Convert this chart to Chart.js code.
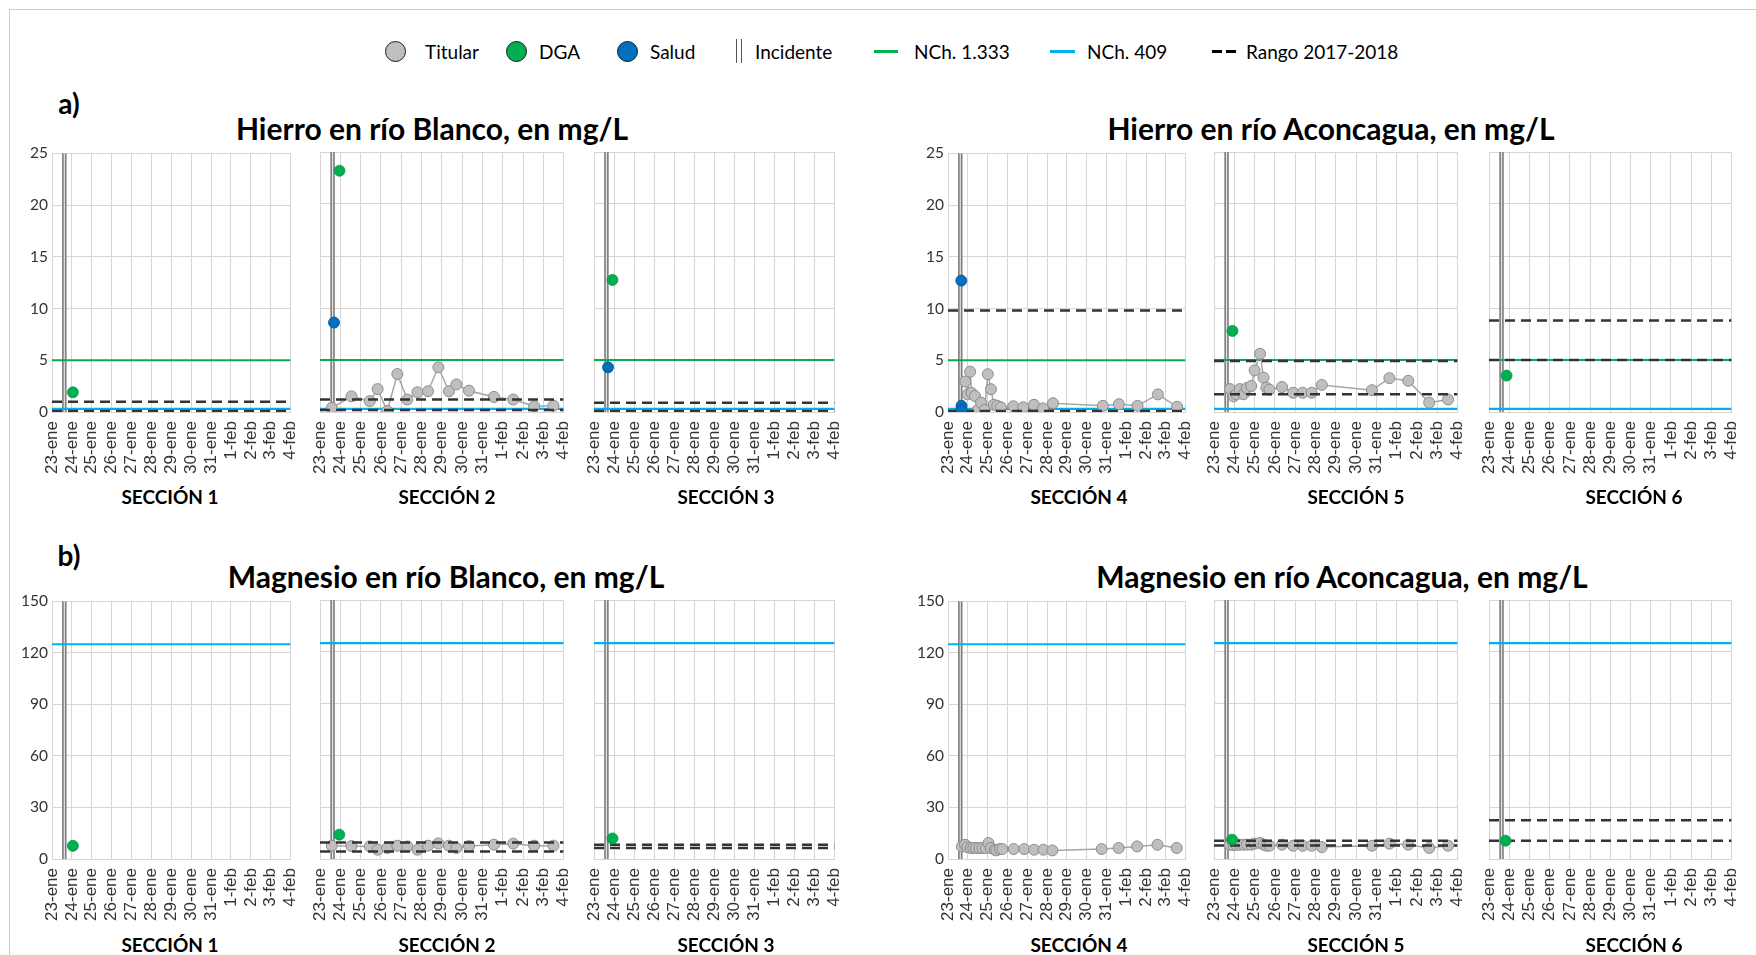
<!DOCTYPE html>
<html lang="es">
<head>
<meta charset="utf-8">
<title>Hierro y magnesio en río Blanco y río Aconcagua</title>
<script src="https://cdn.jsdelivr.net/npm/chart.js@4.4.1/dist/chart.umd.min.js"></script>
<style>
  html, body { margin: 0; padding: 0; background: #fff; }
  body { width: 1756px; height: 955px; position: relative; overflow: hidden;
         font-family: Lato, "Open Sans", sans-serif; color: #000; }
  .marco { position: absolute; left: 9px; top: 9px; width: 1800px; height: 1000px;
           border: 1px solid #c9c9c9; }
  .panel { position: absolute; }
  .txt { position: absolute; white-space: nowrap; transform: translate(-50%, -50%); }
  .titulo { font-weight: 700; font-size: 30px; }
  .letra { font-weight: 700; font-size: 28px; }
  .seccion { font-weight: 700; font-size: 19px; }
  .leg-txt { position: absolute; top: 51px; transform: translateY(-50%); font-size: 19px; white-space: nowrap; }
  .leg-sym { position: absolute; box-sizing: border-box; }
  .circ { width: 21px; height: 21px; top: 40.5px; border-radius: 50%; border: 1.8px solid #1a1a1a; }
  .inc { width: 6px; height: 24px; top: 39px; border-left: 1.3px solid #555; border-right: 1.3px solid #555; }
  .lin { height: 3px; top: 50px; }
</style>
</head>
<body>
<div class="marco"></div>

<!-- leyenda común -->
<div class="leg-sym circ" style="left:385px;background:#BFBFBF"></div>
<div class="leg-txt" style="left:425px">Titular</div>
<div class="leg-sym circ" style="left:506px;background:#00B050"></div>
<div class="leg-txt" style="left:539px">DGA</div>
<div class="leg-sym circ" style="left:617px;background:#0070C0"></div>
<div class="leg-txt" style="left:650px">Salud</div>
<div class="leg-sym inc" style="left:736px"></div>
<div class="leg-txt" style="left:755px">Incidente</div>
<div class="leg-sym lin" style="left:874px;width:24px;background:#00B050"></div>
<div class="leg-txt" style="left:914px">NCh. 1.333</div>
<div class="leg-sym lin" style="left:1050px;width:25px;background:#00B0F0"></div>
<div class="leg-txt" style="left:1087px">NCh. 409</div>
<div class="leg-sym lin" style="left:1212px;width:10px;background:#000"></div>
<div class="leg-sym lin" style="left:1226px;width:10px;background:#000"></div>
<div class="leg-txt" style="left:1246px">Rango 2017-2018</div>

<div class="txt letra" style="left:69px;top:103px">a)</div>
<div class="txt titulo" style="left:432px;top:128px">Hierro en río Blanco, en mg/L</div>
<div class="txt titulo" style="left:1331px;top:128px">Hierro en río Aconcagua, en mg/L</div>
<div class="txt letra" style="left:69px;top:555px">b)</div>
<div class="txt titulo" style="left:446px;top:576px">Magnesio en río Blanco, en mg/L</div>
<div class="txt titulo" style="left:1342px;top:576px">Magnesio en río Aconcagua, en mg/L</div>

<script>
// ---- Eje de fechas (días desde el 23 de enero) ----
const fechas = ['23-ene', '24-ene', '25-ene', '26-ene', '27-ene', '28-ene', '29-ene',
                '30-ene', '31-ene', '1-feb', '2-feb', '3-feb', '4-feb'];
const secciones = ['SECCIÓN 1', 'SECCIÓN 2', 'SECCIÓN 3', 'SECCIÓN 4', 'SECCIÓN 5', 'SECCIÓN 6'];
const incidenteDia = 0.62;

// ---- Hierro (mg/L) ----
const feTicks = [0, 5, 10, 15, 20, 25];
const feNch1333 = 5;
const feNch409 = 0.3;
const feRangoMin = [0.1, 0.2, 0.1, 0.1, 1.7, 5.0];
const feRangoMax = [1.0, 1.2, 0.9, 9.8, 4.9, 8.8];
const feDgaDia = [1.05, 0.96, 0.92, null, 0.91, 0.87];
const feDgaValor = [1.9, 23.2, 12.7, null, 7.8, 3.5];
const feSaludDia = [[], [0.69], [0.70], [0.67, 0.68, 0.68], [], []];
const feSaludValor = [[], [8.6], [4.3], [12.7, 0.6, 0.2], [], []];

const diasS2 = [0.58, 1.55, 2.45, 2.84, 3.31, 3.81, 4.3, 4.8, 5.32, 5.83, 6.35, 6.72, 7.34, 8.57, 9.52, 10.55, 11.5];
const feTitularS2 = [0.4, 1.5, 1.05, 2.2, 0.1, 3.65, 1.2, 1.9, 2.0, 4.3, 2.0, 2.65, 2.05, 1.45, 1.2, 0.55, 0.6];

const diasS4Fe = [0.87, 0.99, 1.12, 1.19, 1.36, 1.51, 1.67, 1.85, 2.01, 2.17, 2.31, 2.49, 2.67,
                  3.3, 3.8, 4.34, 4.8, 5.3, 7.82, 8.63, 9.57, 10.6, 11.57];
const feTitularS4 = [2.95, 1.7, 3.9, 1.85, 1.55, 0.2, 0.9, 0.2, 3.65, 2.2, 0.7, 0.6, 0.45,
                     0.55, 0.45, 0.7, 0.35, 0.85, 0.6, 0.75, 0.6, 1.7, 0.5];

const diasS5 = [0.79, 0.96, 1.1, 1.27, 1.45, 1.62, 1.83, 2.0, 2.27, 2.44, 2.58, 2.73, 3.35,
                3.9, 4.37, 4.81, 5.31, 7.78, 8.64, 9.57, 10.6, 11.53];
const feTitularS5 = [2.2, 1.5, 1.7, 2.2, 1.7, 2.3, 2.5, 4.0, 5.6, 3.3, 2.35, 2.15, 2.4,
                     1.85, 1.85, 1.85, 2.6, 2.1, 3.25, 3.0, 0.9, 1.2];

// ---- Magnesio (mg/L) ----
const mgTicks = [0, 30, 60, 90, 120, 150];
const mgNch409 = 125;
const mgRangoMin = [null, 4.3, 6.4, null, 7.8, 10.6];
const mgRangoMax = [null, 9.6, 8.3, null, 10.6, 22.4];
const mgDgaDia = [1.05, 0.95, 0.92, null, 0.89, 0.82];
const mgDgaValor = [7.7, 14.1, 11.9, null, 11.2, 10.6];

const mgTitularS2 = [7.7, 7.5, 7.3, 5.4, 6.4, 7.7, 7.3, 5.4, 7.7, 9.0, 7.7, 6.4, 7.5, 8.3, 8.9, 7.7, 7.7];

const diasS4Mg = [0.7, 0.86, 0.98, 1.15, 1.28, 1.41, 1.58, 1.74, 1.91, 2.04, 2.16, 2.36, 2.44,
                  2.61, 2.74, 3.32, 3.85, 4.35, 4.82, 5.27, 7.76, 8.62, 9.55, 10.58, 11.55];
const mgTitularS4 = [7.3, 8.3, 6.9, 6.4, 6.4, 6.4, 6.4, 6.4, 6.4, 9.3, 6.4, 5.4, 5.0,
                     5.8, 5.8, 5.8, 5.8, 5.4, 5.4, 5.0, 5.8, 6.4, 7.3, 8.3, 6.4];

const mgTitularS5 = [8.3, 8.0, 8.3, 8.3, 8.3, 8.3, 8.3, 8.9, 9.3, 8.3, 7.7, 7.7, 8.3,
                     7.7, 7.7, 7.7, 6.9, 7.7, 8.9, 8.3, 6.4, 7.7];

// ---- Colores ----
const C = {
  titular: '#BFBFBF', titularBorde: '#8C8C8C', titularLinea: '#A6A6A6',
  dga: '#00B050', salud: '#0070C0', saludBorde: '#0B4F8A',
  nch1333: '#00B050', nch409: '#00B0F0', rango: '#333333',
  incidente: '#808080', incidenteCentro: '#E3E3E3', grilla: '#D6D6D6', texto: '#333333'
};

// ---- Disposición de los paneles ----
const columnas = [
  { left: 52, w: 241 }, { left: 320, w: 246 }, { left: 594, w: 243 },
  { left: 948, w: 240 }, { left: 1214, w: 246 }, { left: 1489, w: 245 }
];
const filas = [{ top: 151.5, h: 260, secY: 496 }, { top: 600, h: 259, secY: 944 }];
const seccionX = [170, 447, 726, 1079, 1356, 1634];
const EJE_Y = 45, PAD_T = 12, PAD_R = 27, EJE_X = 70, PAD_B = 2;

const puntos = (xs, ys) => xs.map((x, i) => ({ x, y: ys[i] }));

function lineaH(y, color, ancho, orden, guion) {
  return { data: [{ x: 0, y }, { x: 12, y }], showLine: true, borderColor: color,
           borderWidth: ancho, borderDash: guion || [], pointRadius: 0, order: orden };
}

function datasets(serie, i) {
  const ds = [];
  const yMax = serie.max;
  // Incidente: línea vertical doble
  ds.push({ data: [{ x: incidenteDia, y: 0 }, { x: incidenteDia, y: yMax }], showLine: true,
            borderColor: C.incidente, borderWidth: 4.5, pointRadius: 0, order: 9 });
  ds.push({ data: [{ x: incidenteDia, y: 0 }, { x: incidenteDia, y: yMax }], showLine: true,
            borderColor: C.incidenteCentro, borderWidth: 1.2, pointRadius: 0, order: 8 });
  // Normas
  ds.push(lineaH(serie.nch409, C.nch409, 2.2, 6));
  if (serie.nch1333 != null) ds.push(lineaH(serie.nch1333, C.nch1333, 2.2, 5));
  // Titular
  if (serie.titular[i]) {
    const t = serie.titular[i];
    ds.push({ data: puntos(t.dias, t.valores), showLine: true, borderColor: C.titularLinea,
              borderWidth: 1.5, pointRadius: 5.5, pointBackgroundColor: C.titular,
              pointBorderColor: C.titularBorde, pointBorderWidth: 1, order: 4 });
  }
  // Rango histórico
  if (serie.rangoMin[i] != null) {
    ds.push(lineaH(serie.rangoMin[i], C.rango, 2.5, 3, [10, 6]));
    ds.push(lineaH(serie.rangoMax[i], C.rango, 2.5, 3, [10, 6]));
  }
  // Salud
  if (serie.saludDia && serie.saludDia[i].length) {
    ds.push({ data: puntos(serie.saludDia[i], serie.saludValor[i]), showLine: false,
              pointRadius: 5.5, pointBackgroundColor: C.salud, pointBorderColor: C.saludBorde,
              pointBorderWidth: 0.8, order: 1 });
  }
  // DGA
  if (serie.dgaDia[i] != null) {
    ds.push({ data: [{ x: serie.dgaDia[i], y: serie.dgaValor[i] }], showLine: false,
              pointRadius: 5.5, pointBackgroundColor: C.dga, pointBorderColor: '#07934A',
              pointBorderWidth: 0.8, order: 0 });
  }
  return ds;
}

const series = [
  { max: 25, ticks: feTicks, nch409: feNch409, nch1333: feNch1333,
    rangoMin: feRangoMin, rangoMax: feRangoMax, dgaDia: feDgaDia, dgaValor: feDgaValor,
    saludDia: feSaludDia, saludValor: feSaludValor,
    titular: [null, { dias: diasS2, valores: feTitularS2 }, null,
              { dias: diasS4Fe, valores: feTitularS4 }, { dias: diasS5, valores: feTitularS5 }, null] },
  { max: 150, ticks: mgTicks, nch409: mgNch409, nch1333: null,
    rangoMin: mgRangoMin, rangoMax: mgRangoMax, dgaDia: mgDgaDia, dgaValor: mgDgaValor,
    saludDia: null, saludValor: null,
    titular: [null, { dias: diasS2, valores: mgTitularS2 }, null,
              { dias: diasS4Mg, valores: mgTitularS4 }, { dias: diasS5, valores: mgTitularS5 }, null] }
];

series.forEach((serie, f) => {
  const fila = filas[f];
  columnas.forEach((col, i) => {
    const div = document.createElement('div');
    div.className = 'panel';
    const w = col.w + EJE_Y + PAD_R;
    const h = fila.h + PAD_T + EJE_X + PAD_B;
    div.style.left = (col.left - EJE_Y) + 'px';
    div.style.top = (fila.top - PAD_T) + 'px';
    div.style.width = w + 'px';
    div.style.height = h + 'px';
    const cv = document.createElement('canvas');
    cv.width = w; cv.height = h;
    div.appendChild(cv);
    document.body.appendChild(div);

    const conEtiquetas = (i === 0 || i === 3);
    new Chart(cv, {
      type: 'scatter',
      data: { datasets: datasets(serie, i) },
      options: {
        responsive: false, animation: false, events: [],
        layout: { padding: { left: 0, top: PAD_T, right: PAD_R, bottom: PAD_B } },
        plugins: { legend: { display: false }, tooltip: { enabled: false } },
        scales: {
          x: {
            type: 'linear', min: 0, max: 12,
            afterFit: s => { s.height = EJE_X; },
            afterBuildTicks: s => { s.ticks = fechas.map((_, k) => ({ value: k })); },
            grid: { color: C.grilla, lineWidth: 1, drawTicks: false },
            border: { color: C.grilla },
            ticks: { autoSkip: false, minRotation: 90, maxRotation: 90, padding: 9,
                     color: C.texto, font: { family: '"Liberation Sans", Arial, sans-serif', size: 17 },
                     callback: v => fechas[Math.round(v)] }
          },
          y: {
            min: 0, max: serie.max,
            afterFit: s => { s.width = EJE_Y; },
            afterBuildTicks: s => { s.ticks = serie.ticks.map(v => ({ value: v })); },
            grid: { color: C.grilla, lineWidth: 1, drawTicks: false },
            border: { color: C.grilla },
            ticks: { display: conEtiquetas, padding: 4, color: C.texto,
                     font: { family: 'Lato, sans-serif', size: 15.5 } }
          }
        }
      }
    });

    const sec = document.createElement('div');
    sec.className = 'txt seccion';
    sec.style.left = seccionX[i] + 'px';
    sec.style.top = fila.secY + 'px';
    sec.textContent = secciones[i];
    document.body.appendChild(sec);
  });
});
</script>
</body>
</html>
